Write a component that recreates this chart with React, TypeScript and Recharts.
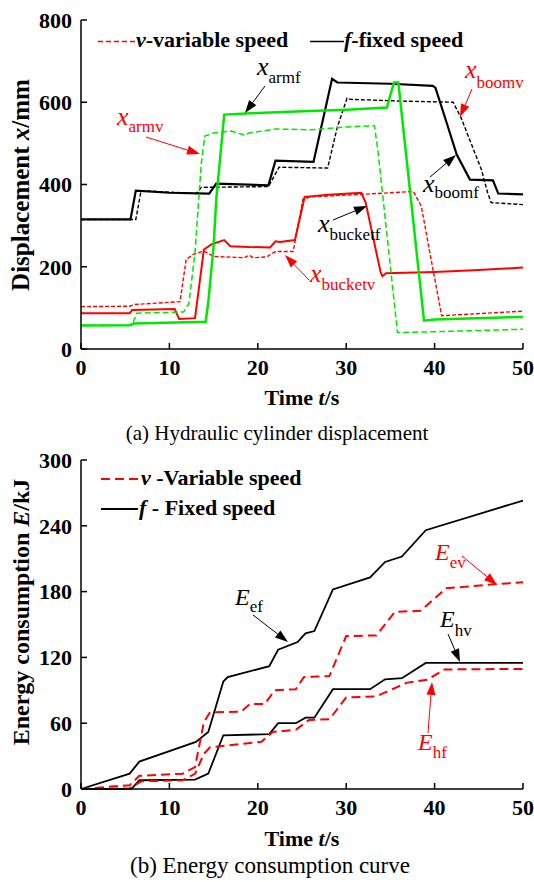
import React from "react";
import { LineChart, Line, XAxis, YAxis } from "recharts";

const FONT = '"Liberation Serif", "Times New Roman", serif';

// time ticks shared by both panels
const timeTicks = [0, 10, 20, 30, 40, 50];
const dispTicks = [0, 200, 400, 600, 800];
const energyTicks = [0, 60, 120, 180, 240, 300];

// (a) cylinder displacement, [t (s), x (mm)]
const boomFixed = [
  [0, 315], [5.6, 315], [6.2, 385], [10, 380], [14.5, 378], [15.3, 402], [21.2, 398],
  [22.0, 458], [26.3, 455], [28.4, 657], [29, 648], [35, 645], [39.8, 640], [40.1, 635],
  [41.5, 541], [42.5, 473], [44, 412], [46.6, 410], [47.2, 378], [50, 376],
];
const boomVar = [
  [0, 315], [6.2, 315], [6.8, 385], [13.1, 378], [13.6, 393], [21.2, 395], [22.4, 442],
  [27.9, 440], [29, 540], [30.1, 610], [30.5, 607], [36, 603], [42.1, 600], [43, 562],
  [45.3, 436], [46, 380], [46.4, 356], [50, 351],
];
const armFixed = [
  [0, 57], [5.5, 58], [6, 62], [14.1, 66], [14.4, 114], [15, 250], [15.3, 364], [16.2, 570],
  [20, 574], [25, 578], [30, 582], [34.6, 587], [35.4, 648], [35.9, 648], [38.8, 69],
  [40, 72], [50, 78],
];
const armVar = [
  [0, 58], [5.8, 58], [6.3, 87], [11.6, 90], [12.2, 110], [12.9, 235], [13.6, 450],
  [14.0, 518], [15, 525], [17, 530], [18.5, 520], [19, 525], [22, 535], [26, 533],
  [30, 540], [33.2, 543], [33.6, 480], [35.8, 40], [40, 42], [50, 48],
];
const bucketFixed = [
  [0, 87], [5.5, 87], [5.8, 95], [10.6, 97], [11.1, 73], [12.9, 75], [13.9, 242],
  [14.8, 255], [16.2, 265], [16.9, 250], [19, 248], [21.4, 247], [22, 262], [22.5, 260],
  [24.2, 265], [25.3, 370], [28, 375], [31.7, 380], [32.2, 356], [33.9, 186], [34.1, 177],
  [34.5, 184], [40, 187], [45, 192], [50, 198],
];
const bucketVar = [
  [0, 103], [5.5, 104], [6, 108], [11.2, 115], [11.9, 218], [12.7, 230], [13.9, 238],
  [15, 225], [18.5, 222], [19, 228], [19.5, 222], [21, 224], [22, 237], [24, 237],
  [25.1, 364], [26, 370], [31.7, 376], [37.6, 383], [38.5, 347], [39.6, 218], [40.8, 81],
  [45, 86], [50, 92],
];

// (b) energy consumption, [t (s), E (kJ)]
const eEf = [
  [0, 0], [5.5, 14], [6.6, 25], [13, 43], [14.4, 52], [16.1, 98], [16.6, 102], [21.3, 112],
  [22.3, 127], [24.5, 134], [25.4, 142], [26.4, 144], [28.5, 182], [32.7, 193], [34.4, 207],
  [36.3, 212], [39, 236], [50, 263],
];
const eHv = [
  [0, 0], [5.7, 0], [6.6, 8], [12.9, 8.5], [14.4, 14], [16.1, 49], [21.3, 50], [22.3, 60],
  [24.3, 60], [25.4, 65], [26.4, 65], [28.5, 91], [32.7, 91], [34.4, 100], [36.3, 101],
  [39, 115], [50, 115],
];
const eEv = [
  [0, 0], [5.5, 3.5], [6.6, 12], [11.5, 14], [12.9, 20], [13.9, 61], [14.6, 70],
  [18.1, 70.5], [19.1, 77.5], [20.8, 77.5], [21.9, 90], [24.3, 91], [25.2, 102],
  [28.1, 103], [30, 139.5], [33.4, 140], [35.5, 161.5], [38.4, 162.5], [41.3, 183],
  [47.2, 187], [50, 188.5],
];
const eHf = [
  [0, 0], [5.5, 0.5], [6.8, 7], [11.5, 8], [12.9, 13.8], [13.9, 32], [14.6, 38],
  [20.4, 43], [21.7, 52], [24.3, 54], [25.8, 63], [28.1, 63.5], [30, 83.5], [33.4, 84.5],
  [36.9, 97], [39.2, 99.7], [41.1, 109], [50, 109.5],
];

const pts = (arr: number[][]) => arr.map(([t, v]) => ({ t, v }));

const RED = "#ff0000";
const GREEN = "#00e800";

const tickStyle = { fill: "#000", fontSize: 22, fontWeight: 700, fontFamily: FONT };
const axisLine = { stroke: "#000", strokeWidth: 1.5 };

const Arrow = ({ x1, y1, x2, y2, color }: any) => {
  const a = Math.atan2(y2 - y1, x2 - x1);
  const L = 13;
  const W = 4.5;
  const bx = x2 - L * Math.cos(a);
  const by = y2 - L * Math.sin(a);
  const px = -Math.sin(a) * W;
  const py = Math.cos(a) * W;
  return (
    <g>
      <line x1={x1} y1={y1} x2={bx} y2={by} stroke={color} strokeWidth={1} />
      <polygon points={`${x2},${y2} ${bx + px},${by + py} ${bx - px},${by - py}`} fill={color} />
    </g>
  );
};

const SubLabel = ({ x, y, main, sub, color, size, subSize, dy }: any) => (
  <text x={x} y={y} fill={color} fontFamily={FONT} fontSize={size}>
    <tspan fontStyle="italic">{main}</tspan>
    <tspan fontSize={subSize} dy={dy}>{sub}</tspan>
  </text>
);

const Panel = ({ top, domain, ticks, children }: any) => (
  <div style={{ position: "absolute", left: 0, top }}>
    <LineChart width={534} height={420} margin={{ top: 20, right: 11, left: 0, bottom: 0 }}>
      <XAxis
        dataKey="t"
        type="number"
        domain={[0, 50]}
        ticks={timeTicks}
        height={71}
        axisLine={axisLine}
        tickLine={axisLine}
        tickSize={-6}
        tickMargin={16}
        tick={tickStyle}
        interval={0}
      />
      <YAxis
        type="number"
        domain={domain}
        ticks={ticks}
        width={81}
        axisLine={axisLine}
        tickLine={axisLine}
        tickSize={-6}
        tickMargin={15}
        tick={tickStyle}
        interval={0}
      />
      {children}
    </LineChart>
  </div>
);

export default function App() {
  return (
    <div style={{ position: "relative", width: 534, height: 882, background: "#fff" }}>
      <style>{"body{margin:0}"}</style>
      <Panel top={0} domain={[0, 800]} ticks={dispTicks}>
        <Line data={pts(boomVar)} dataKey="v" stroke="#000" strokeWidth={1.4} strokeDasharray="4 2" dot={false} isAnimationActive={false} />
        <Line data={pts(boomFixed)} dataKey="v" stroke="#000" strokeWidth={2.2} dot={false} isAnimationActive={false} />
        <Line data={pts(bucketVar)} dataKey="v" stroke={RED} strokeWidth={1.4} strokeDasharray="4 2" dot={false} isAnimationActive={false} />
        <Line data={pts(bucketFixed)} dataKey="v" stroke={RED} strokeWidth={2} dot={false} isAnimationActive={false} />
        <Line data={pts(armVar)} dataKey="v" stroke={GREEN} strokeWidth={1.5} strokeDasharray="6 3" dot={false} isAnimationActive={false} />
        <Line data={pts(armFixed)} dataKey="v" stroke={GREEN} strokeWidth={2.5} dot={false} isAnimationActive={false} />
      </Panel>
      <Panel top={440} domain={[0, 300]} ticks={energyTicks}>
        <Line data={pts(eEf)} dataKey="v" stroke="#000" strokeWidth={1.8} dot={false} isAnimationActive={false} />
        <Line data={pts(eHv)} dataKey="v" stroke="#000" strokeWidth={1.8} dot={false} isAnimationActive={false} />
        <Line data={pts(eEv)} dataKey="v" stroke={RED} strokeWidth={2} strokeDasharray="9 5" dot={false} isAnimationActive={false} />
        <Line data={pts(eHf)} dataKey="v" stroke={RED} strokeWidth={2} strokeDasharray="9 5" dot={false} isAnimationActive={false} />
      </Panel>

      <svg width={534} height={882} style={{ position: "absolute", left: 0, top: 0, pointerEvents: "none" }}>
        {/* legend (a) */}
        <line x1={98} y1={41.5} x2={135} y2={41.5} stroke={RED} strokeWidth={1.5} strokeDasharray="5 3" />
        <text x={136} y={47} fontFamily={FONT} fontSize={22} fontWeight={700}>
          <tspan fontStyle="italic">v</tspan>-variable speed
        </text>
        <line x1={310} y1={41.5} x2={344} y2={41.5} stroke="#000" strokeWidth={1.5} />
        <text x={344} y={47} fontFamily={FONT} fontSize={22} fontWeight={700}>
          <tspan fontStyle="italic">f</tspan>-fixed speed
        </text>

        {/* annotations (a) */}
        <SubLabel x={257} y={75} main="x" sub="armf" color="#000" size={26} subSize={17} dy={8} />
        <Arrow x1={265} y1={86} x2={245} y2={113} color="#000" />
        <SubLabel x={117} y={125} main="x" sub="armv" color={RED} size={26} subSize={17} dy={7} />
        <Arrow x1={146} y1={137} x2={200} y2={154} color={RED} />
        <SubLabel x={465} y={78} main="x" sub="boomv" color={RED} size={26} subSize={17} dy={10} />
        <Arrow x1={472} y1={89} x2={460} y2={117} color={RED} />
        <SubLabel x={423} y={192} main="x" sub="boomf" color="#000" size={26} subSize={17} dy={6} />
        <Arrow x1={430} y1={177} x2={456} y2={155} color="#000" />
        <SubLabel x={318} y={232} main="x" sub="bucketf" color="#000" size={26} subSize={17} dy={8} />
        <Arrow x1={333} y1={220} x2={367} y2={206} color="#000" />
        <SubLabel x={310} y={282} main="x" sub="bucketv" color={RED} size={26} subSize={17} dy={8} />
        <Arrow x1={309} y1={280} x2={285} y2={255} color={RED} />

        {/* axis titles (a) */}
        <text x={302} y={405} textAnchor="middle" fontFamily={FONT} fontSize={22} fontWeight={700}>
          Time <tspan fontStyle="italic">t</tspan>/s
        </text>
        <text x={29} y={185} transform="rotate(-90 29 185)" textAnchor="middle" fontFamily={FONT} fontSize={25} fontWeight={700}>
          Displacement <tspan fontStyle="italic">x</tspan>/mm
        </text>
        <text x={277} y={440} textAnchor="middle" fontFamily={FONT} fontSize={21}>
          (a) Hydraulic cylinder displacement
        </text>

        {/* legend (b) */}
        <line x1={101} y1={479} x2={139} y2={479} stroke={RED} strokeWidth={2} strokeDasharray="9 5" />
        <text x={141} y={485} fontFamily={FONT} fontSize={22} fontWeight={700}>
          <tspan fontStyle="italic">v</tspan> -Variable speed
        </text>
        <line x1={101} y1={509} x2={138} y2={509} stroke="#000" strokeWidth={1.8} />
        <text x={139} y={515} fontFamily={FONT} fontSize={22} fontWeight={700}>
          <tspan fontStyle="italic">f</tspan> - Fixed speed
        </text>

        {/* annotations (b) */}
        <SubLabel x={235} y={605} main="E" sub="ef" color="#000" size={24} subSize={17} dy={7} />
        <Arrow x1={253} y1={615} x2={288} y2={642} color="#000" />
        <SubLabel x={435} y={560} main="E" sub="ev" color={RED} size={24} subSize={17} dy={8} />
        <Arrow x1={462} y1={556} x2={497} y2={585} color={RED} />
        <SubLabel x={440} y={627} main="E" sub="hv" color="#000" size={24} subSize={17} dy={9} />
        <Arrow x1={448} y1={634} x2={460} y2={662} color="#000" />
        <SubLabel x={418} y={750} main="E" sub="hf" color={RED} size={24} subSize={17} dy={8} />
        <Arrow x1={428} y1={733} x2={432} y2={682} color={RED} />

        {/* axis titles (b) */}
        <text x={302} y={846} textAnchor="middle" fontFamily={FONT} fontSize={22} fontWeight={700}>
          Time <tspan fontStyle="italic">t</tspan>/s
        </text>
        <text x={29} y={612} transform="rotate(-90 29 612)" textAnchor="middle" fontFamily={FONT} fontSize={24} fontWeight={700}>
          Energy consumption <tspan fontStyle="italic">E</tspan>/kJ
        </text>
        <text x={270} y={873} textAnchor="middle" fontFamily={FONT} fontSize={23}>
          (b) Energy consumption curve
        </text>
      </svg>
    </div>
  );
}
